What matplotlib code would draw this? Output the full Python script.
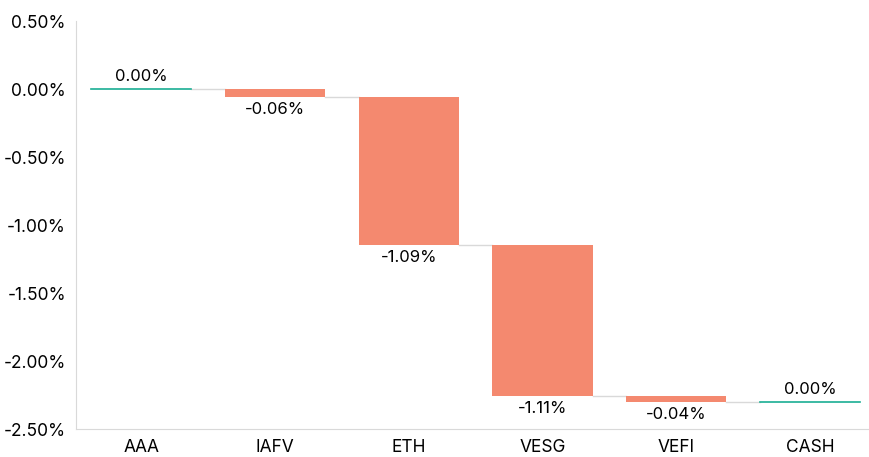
import matplotlib.pyplot as plt
import numpy as np

plt.rcParams['font.family'] = ['Inter', 'DejaVu Sans']

categories = ['AAA', 'IAFV', 'ETH', 'VESG', 'VEFI', 'CASH']
changes = [0.00, -0.06, -1.09, -1.11, -0.04, 0.00]
is_total = [True, False, False, False, False, True]

salmon = '#F4896F'
teal = '#1AAE93'
grey = '#d9d9d9'

fig = plt.figure(figsize=(8.7, 4.57), dpi=100)
ax = fig.add_axes([0.087, 0.061, 0.913, 0.893])

x = np.arange(len(categories))
width = 0.75
running = 0.0
levels = []
for i, (c, tot) in enumerate(zip(changes, is_total)):
    if tot:
        if i > 0:
            c_level = running
        else:
            c_level = c
            running = c
        ax.plot([x[i] - width / 2, x[i] + width / 2], [c_level, c_level],
                color=teal, lw=1.2, zorder=3)
        ax.text(x[i], c_level + 0.035, f'{changes[i]:.2f}%', ha='center', va='bottom', fontsize=12)
        levels.append(c_level)
    else:
        start = running
        running = running + c
        ax.bar(x[i], c, bottom=start, width=width, color=salmon, zorder=2)
        ax.text(x[i], running - 0.035, f'{c:.2f}%', ha='center', va='top', fontsize=12)
        levels.append(running)

# connectors between bars
for i in range(len(categories) - 1):
    ax.plot([x[i] + width / 2, x[i + 1] - width / 2], [levels[i], levels[i]],
            color=grey, lw=1, zorder=1)

ax.set_ylim(-2.5, 0.5)
ax.set_xlim(-0.49, 5.45)
ax.set_yticks(np.arange(-2.5, 0.51, 0.5))
ax.set_yticklabels([f'{v:.2f}%' for v in np.arange(-2.5, 0.51, 0.5)])
ax.set_xticks(x)
ax.set_xticklabels(categories)
ax.tick_params(length=0, labelsize=12.5, pad=7)
for s in ['top', 'right']:
    ax.spines[s].set_visible(False)
for s in ['left', 'bottom']:
    ax.spines[s].set_color('#d9d9d9')

fig.savefig('out.png', dpi=100)
